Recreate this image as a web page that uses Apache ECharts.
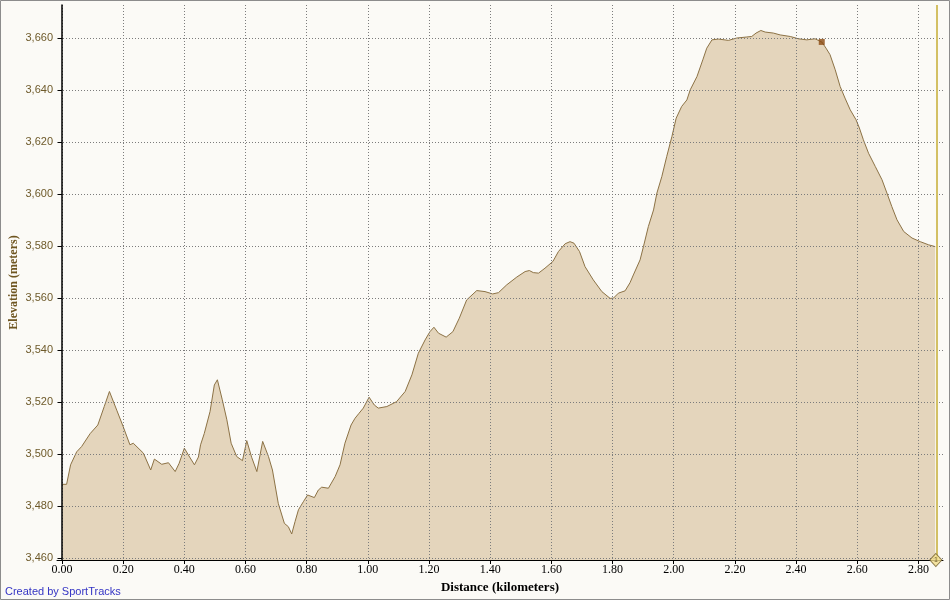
<!DOCTYPE html>
<html lang="en">
<head>
    <meta charset="utf-8" />
    <title>Elevation</title>
    <script src="https://cdn.jsdelivr.net/npm/echarts/dist/echarts.min.js"></script>
    <style>
        body { margin: 0; background: #fbfaf6; }
    </style>
</head>
<body>
<div id="main" style="width: 950px;height:600px;"></div>
<script>
    // distance (km) and elevation (m)
    var distKm = [
        0.000, 0.015, 0.028, 0.048, 0.064, 0.092, 0.117, 0.138, 0.155, 0.179,
        0.200, 0.222, 0.233, 0.266, 0.290, 0.302, 0.326, 0.348, 0.370, 0.376,
        0.383, 0.400, 0.413, 0.433, 0.446, 0.453, 0.465, 0.484, 0.498, 0.508,
        0.524, 0.539, 0.553, 0.571, 0.590, 0.604, 0.620, 0.637, 0.656, 0.675,
        0.688, 0.707, 0.727, 0.740, 0.751, 0.762, 0.773, 0.789, 0.803, 0.825,
        0.838, 0.849, 0.871, 0.893, 0.909, 0.925, 0.945, 0.958, 0.971, 0.985,
        1.004, 1.021, 1.034, 1.062, 1.094, 1.122, 1.144, 1.165, 1.187, 1.203,
        1.216, 1.231, 1.256, 1.278, 1.299, 1.323, 1.356, 1.383, 1.408, 1.427,
        1.454, 1.487, 1.514, 1.528, 1.541, 1.558, 1.579, 1.605, 1.623, 1.645,
        1.661, 1.674, 1.692, 1.710, 1.737, 1.765, 1.792, 1.803, 1.819, 1.841,
        1.857, 1.868, 1.890, 1.901, 1.917, 1.934, 1.945, 1.961, 1.977, 1.994,
        2.008, 2.026, 2.043, 2.054, 2.076, 2.095, 2.108, 2.125, 2.146, 2.179,
        2.206, 2.239, 2.255, 2.269, 2.285, 2.299, 2.326, 2.348, 2.381, 2.408,
        2.435, 2.462, 2.484, 2.498, 2.511, 2.528, 2.544, 2.560, 2.577, 2.596,
        2.607, 2.620, 2.637, 2.659, 2.681, 2.697, 2.713, 2.730, 2.752, 2.779,
        2.806, 2.833, 2.855
    ];
    var elevM = [
        3488.5, 3488.5, 3496.0, 3501.0, 3503.0, 3508.0, 3511.3, 3518.4, 3524.2, 3517.0,
        3510.7, 3503.7, 3504.3, 3500.5, 3494.0, 3498.2, 3496.2, 3496.8, 3493.4, 3492.8,
        3496.6, 3502.4, 3499.8, 3496.0, 3499.0, 3503.7, 3508.0, 3516.5, 3526.7, 3528.7,
        3521.0, 3513.3, 3504.3, 3499.2, 3497.6, 3505.3, 3498.9, 3493.4, 3505.0, 3499.2,
        3494.0, 3481.2, 3473.5, 3472.2, 3469.4, 3474.2, 3478.7, 3481.8, 3484.4, 3483.4,
        3486.3, 3487.4, 3487.0, 3491.5, 3496.0, 3504.3, 3511.3, 3513.9, 3515.8, 3517.8,
        3522.0, 3519.0, 3517.8, 3518.4, 3520.3, 3524.2, 3530.6, 3538.9, 3544.0, 3547.2,
        3548.9, 3546.6, 3545.1, 3547.2, 3552.4, 3559.4, 3563.0, 3562.6, 3561.7, 3562.2,
        3565.2, 3568.2, 3570.3, 3570.7, 3569.9, 3569.7, 3571.6, 3574.2, 3578.0, 3581.0,
        3581.8, 3581.2, 3578.0, 3572.2, 3567.1, 3562.6, 3560.0, 3560.1, 3562.0, 3562.9,
        3566.0, 3569.0, 3574.8, 3579.9, 3587.6, 3594.0, 3600.5, 3606.8, 3614.5, 3622.2,
        3629.3, 3633.8, 3636.3, 3640.2, 3645.3, 3651.7, 3656.2, 3659.4, 3659.7, 3659.2,
        3660.1, 3660.5, 3660.7, 3662.0, 3663.0, 3662.4, 3662.0, 3661.3, 3660.7, 3659.8,
        3659.4, 3659.8, 3658.6, 3656.2, 3653.7, 3647.9, 3641.5, 3637.0, 3632.5, 3628.7,
        3625.5, 3621.0, 3615.8, 3610.7, 3605.6, 3600.5, 3595.3, 3590.2, 3585.7, 3583.2,
        3581.8, 3580.6, 3579.9
    ];
    // tick values shown on the axes
    var distTicks = [0, 0.2, 0.4, 0.6, 0.8, 1.0, 1.2, 1.4, 1.6, 1.8, 2.0, 2.2, 2.4, 2.6, 2.8];
    var elevTicks = [3460, 3480, 3500, 3520, 3540, 3560, 3580, 3600, 3620, 3640, 3660];
    // the brown selection square and the lap marker "1"
    var selectedPoint = [2.484, 3658.6];
    var lapMarkers = [[2.857, 3459.4]];
    var lapLabels = ['1'];

    var profile = [];
    for (var i = 0; i < distKm.length; i++) {
        profile.push([distKm[i], elevM[i]]);
    }

    var myChart = echarts.init(document.getElementById('main'));

    var option = {
        animation: false,
        backgroundColor: '#fbfaf6',
        grid: { left: 57, right: 7, top: 5, bottom: 40, containLabel: false, outerBoundsMode: 'none' },
        xAxis: {
            type: 'value',
            min: -0.0164,
            max: 2.8804,
            z: 3,
            name: 'Distance (kilometers)',
            nameLocation: 'middle',
            nameGap: 21,
            nameMoveOverlap: false,
            nameTextStyle: { fontFamily: 'Liberation Serif', fontWeight: 'bold', fontSize: 13, color: '#000' },
            axisLine: { lineStyle: { color: '#000', width: 1 } },
            axisTick: { show: true, inside: false, length: 4, customValues: distTicks, lineStyle: { color: '#000' } },
            axisLabel: {
                margin: 4,
                fontFamily: 'Liberation Serif',
                fontSize: 12,
                color: '#000',
                customValues: distTicks,
                formatter: function (v) { return v.toFixed(2); }
            },
            splitLine: { show: true, lineStyle: { color: '#7c7c7c', type: [1, 2], width: 1 } }
        },
        yAxis: {
            type: 'value',
            min: 3459.4,
            max: 3672.8,
            z: 3,
            name: 'Elevation (meters)',
            nameLocation: 'middle',
            nameGap: 37,
            nameMoveOverlap: false,
            nameTextStyle: { fontFamily: 'Liberation Serif', fontWeight: 'bold', fontSize: 12, color: '#6e5520' },
            axisLine: { show: true, lineStyle: { color: '#000', width: 1.5 } },
            axisTick: { show: true, inside: false, length: 4, customValues: elevTicks, lineStyle: { color: '#000' } },
            axisLabel: {
                margin: 4,
                fontFamily: 'Liberation Sans',
                fontSize: 11,
                color: '#6e5a2a',
                customValues: elevTicks,
                formatter: function (v) { return v.toLocaleString('en-US'); }
            },
            splitLine: { show: true, lineStyle: { color: '#7c7c7c', type: [1, 2], width: 1 } }
        },
        series: [{
            type: 'line',
            data: profile,
            showSymbol: false,
            z: 1,
            lineStyle: { color: '#8c7245', width: 1 },
            areaStyle: { color: '#e4d5bc', opacity: 1, origin: 'start' },
            markLine: {
                silent: true,
                symbol: ['none', 'none'],
                label: { show: false },
                lineStyle: { color: '#d3c064', width: 2, type: 'solid' },
                data: [{ xAxis: lapMarkers[0][0] }]
            }
        }, {
            type: 'scatter',
            data: [selectedPoint],
            symbol: 'rect',
            symbolSize: 6,
            z: 4,
            itemStyle: { color: '#8b4a10' }
        }, {
            type: 'scatter',
            data: lapMarkers,
            symbol: 'diamond',
            symbolSize: [12, 13],
            clip: false,
            z: 5,
            itemStyle: { color: '#f3dd8c', borderColor: '#6e5c28', borderWidth: 1 },
            label: {
                show: true,
                position: 'inside',
                fontSize: 7,
                fontFamily: 'Liberation Sans',
                color: '#4a3a10',
                formatter: function (p) { return lapLabels[p.dataIndex]; }
            }
        }],
        graphic: [{
            type: 'text',
            left: 5,
            top: 586,
            style: { text: 'Created by SportTracks', font: '11px "Liberation Sans"', fill: '#3434c4' }
        }, {
            type: 'rect',
            shape: { x: 0.5, y: 0.5, width: 949, height: 599 },
            style: { fill: 'none', stroke: '#8c8c8c', lineWidth: 1 },
            silent: true
        }]
    };

    myChart.setOption(option);
</script>
</body>
</html>
